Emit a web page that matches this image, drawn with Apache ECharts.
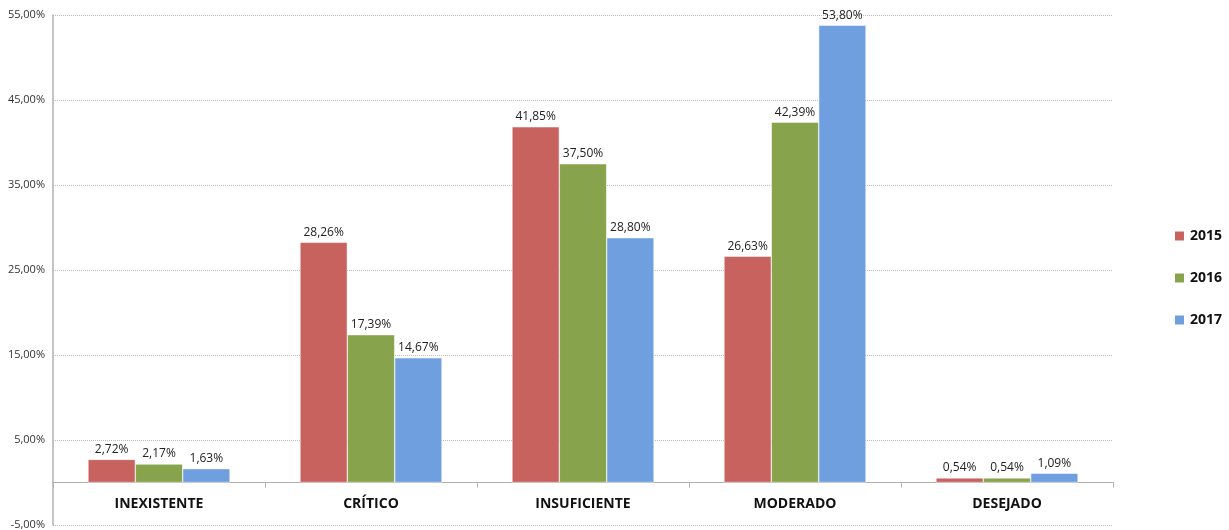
<!DOCTYPE html>
<html><head><meta charset="utf-8">
<script src="https://cdn.jsdelivr.net/npm/echarts@6/dist/echarts.min.js"></script>
<style>html,body{margin:0;padding:0;background:#fff}#c{width:1229px;height:530px}</style>
</head><body><div id="c"></div>
<script>
const categories = ['INEXISTENTE','CRÍTICO','INSUFICIENTE','MODERADO','DESEJADO'];
const seriesNames = ['2015','2016','2017'];
const v2015 = [2.72, 28.26, 41.85, 26.63, 0.54];
const v2016 = [2.17, 17.39, 37.50, 42.39, 0.54];
const v2017 = [1.63, 14.67, 28.80, 53.80, 1.09];
const colors = ['#C8625F','#87A34B','#6F9FDE'];
const fmt = v => v.toFixed(2).replace('.', ',') + '%';
const chart = echarts.init(document.getElementById('c'));
const mk = (name, data, color) => ({
  name, type: 'bar', data, barGap: '0%', barCategoryGap: '33%',
  itemStyle: { color, borderColor: '#fff', borderWidth: 0.5 },
  label: { show: true, position: 'top', distance: 4, formatter: p => fmt(p.value),
    fontFamily: 'Open Sans', fontSize: 12, color: '#222' }
});
chart.setOption({
  animation: false,
  grid: { left: 53, right: 116, top: 15, bottom: 5, containLabel: false, outerBoundsMode: 'none' },
  legend: {
    orient: 'vertical', right: 2, top: 224, itemWidth: 11, itemHeight: 11, itemGap: 28,
    icon: 'rect',
    textStyle: { fontFamily: 'Open Sans', fontWeight: 'bold', fontSize: 14, color: '#111' },
    data: seriesNames
  },
  xAxis: {
    type: 'category', data: categories,
    axisLine: { onZero: true, lineStyle: { color: '#b0b0b0', width: 1 } },
    axisTick: { show: true, length: 5, lineStyle: { color: '#b0b0b0' } },
    axisLabel: { fontFamily: 'Open Sans', fontWeight: 'bold', fontSize: 14, color: '#111', margin: -28 }
  },
  yAxis: {
    type: 'value', min: -5, max: 55, interval: 10,
    axisLine: { show: true, lineStyle: { color: '#b0b0b0', width: 1.5 } },
    axisTick: { show: false },
    splitLine: { lineStyle: { color: '#bbb', type: [1, 1] } },
    axisLabel: { formatter: v => fmt(v), fontFamily: 'Open Sans', fontSize: 11, color: '#333', margin: 8 }
  },
  series: [mk(seriesNames[0], v2015, colors[0]), mk(seriesNames[1], v2016, colors[1]), mk(seriesNames[2], v2017, colors[2])]
});
</script></body></html>
